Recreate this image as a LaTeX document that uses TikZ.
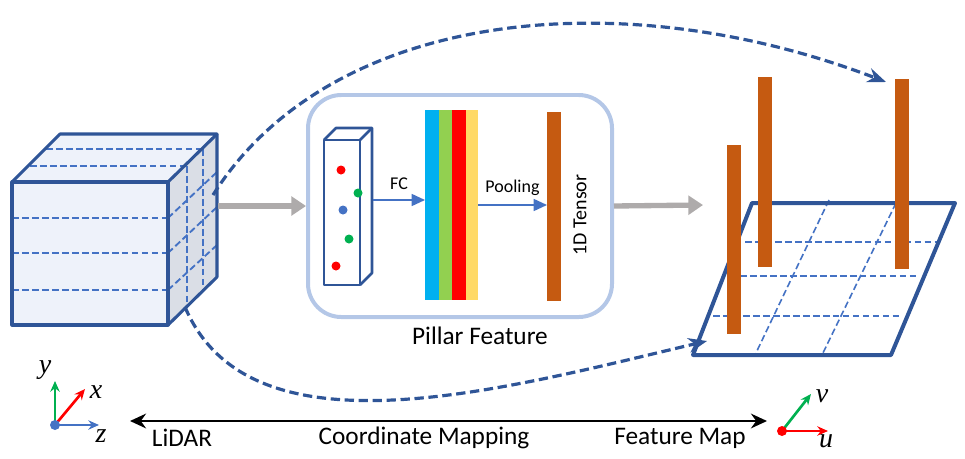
\documentclass[tikz,border=0pt]{standalone}
\usepackage{fontspec}
\setmainfont{Carlito}
\newfontfamily\axfont{Liberation Serif}
\usetikzlibrary{arrows.meta}
\definecolor{dblue}{HTML}{2F5597}
\definecolor{mblue}{HTML}{4472C4}
\definecolor{lblue}{HTML}{B4C7E7}
\definecolor{brown}{HTML}{C55A11}
\definecolor{gr}{HTML}{AEABAB}
\definecolor{ggreen}{HTML}{00B050}
\definecolor{cb}{HTML}{00B0F0}
\definecolor{cg}{HTML}{92D050}
\definecolor{cy}{HTML}{FFD966}
\definecolor{cubef}{HTML}{EEF2FA}
\definecolor{cubes}{HTML}{DADEE6}
\begin{document}
\begin{tikzpicture}[x=0.0264cm,y=-0.0264cm,
  edge/.style={line width=2.3pt,draw=dblue,line join=round},
  grid/.style={mblue,dash pattern=on 5pt off 2.5pt,line width=1.4pt},
  curve/.style={dblue,line width=2.4pt,dash pattern=on 7pt off 3.5pt,-{Stealth[length=14pt,width=11pt]}},
  grayarr/.style={gr,line width=4pt,-{Triangle[length=11pt,width=14pt]}},
  barr/.style={mblue,line width=1.2pt,-{Triangle[length=10pt,width=9pt]}},
  lab/.style={font=\fontsize{13.5}{14}\selectfont},
  big/.style={font=\fontsize{19}{21}\selectfont},
  ax/.style={line width=2pt,-{Stealth[length=8pt,width=7pt]}},
  mth/.style={font=\axfont\itshape\fontsize{21}{21}\selectfont}]
\useasboundingbox (0,0) rectangle (965,459);
% cube
\fill[cubef] (12,182) rectangle (168,325);
\fill[cubef] (12,182)--(60,134)--(217,134)--(168,182)--cycle;
\fill[cubes] (168,182)--(217,134)--(217,277)--(168,325)--cycle;
\foreach \y in {218,253,290} \draw[grid] (12,\y)--(168,\y);
\draw[grid] (46,149)--(203,149);
\draw[grid] (30,166)--(186,166);
\draw[grid] (187,166)--(187,305);
\draw[grid] (203,149)--(203,290);
\draw[grid] (168,218)--(217,172);
\draw[grid] (168,253)--(217,207);
\draw[grid] (168,290)--(217,245);
\draw[edge] (12,182) rectangle (168,325);
\draw[edge] (12,182)--(60,134)--(217,134)--(168,182);
\draw[edge] (217,134)--(217,277)--(168,325);
\coordinate (cubeR) at (218,206);
\coordinate (cubeT) at (213,195);
\coordinate (cubeB) at (185,307);
% pillar feature box
\draw[lblue,line width=3pt,rounded corners=25pt] (308,95) rectangle (612,317);
\coordinate (boxL) at (306,206);
\coordinate (boxR) at (614,206);
\node[big] (pf) at (480,336) {Pillar Feature};
% pillar
\draw[edge,line width=2pt] (324,140) rectangle (360,285);
\draw[edge,line width=2pt] (324,140)--(336,128)--(372,128)--(372,273)--(360,285);
\draw[edge,line width=2pt] (360,140)--(372,128);
\fill[red] (341,170) circle (4.5);
\fill[ggreen] (358,193) circle (4.5);
\fill[mblue] (343,210) circle (4.5);
\fill[ggreen] (349,239) circle (4.5);
\fill[red] (336,266) circle (4.5);
\coordinate (pilR) at (373,200);
% color bars
\fill[cb] (425,110) rectangle (439,300);
\fill[cg] (439,110) rectangle (452,300);
\fill[red] (452,110) rectangle (466,300);
\fill[cy] (466,110) rectangle (478,300);
\coordinate (colL) at (425,200);
\coordinate (colR) at (478,205);
\draw[barr] (pilR)--(colL) node[midway,above=4pt,lab,text=black] (fc) {FC};
\fill[brown] (547,112) rectangle (561,301);
\coordinate (tenL) at (547,205);
\draw[barr] (colR)--(tenL) node[midway,above=3pt,lab,text=black] (pool) {Pooling};
\node[lab,rotate=90,font=\fontsize{15}{16}\selectfont] (ten) at (580,215) {1D Tensor};
% gray arrows
\draw[grayarr] (cubeR)--(boxL);
\coordinate (fmL) at (703,205);
\draw[grayarr] (boxR)--(fmL);
% feature map plane
\fill[white] (693,355)--(752,203)--(955,203)--(891,355)--cycle;
\draw[grid] (745,242)--(937,242);
\draw[grid] (740,276)--(916,276);
\draw[grid] (713,316)--(902,316);
\draw[mblue,dash pattern=on 5pt off 2.5pt,line width=1.2pt] (829,200)--(755,355);
\draw[mblue,dash pattern=on 5pt off 2.5pt,line width=1.2pt] (896,203)--(822,355);
\draw[edge,line width=3pt] (693,355)--(752,203)--(955,203)--(891,355)--cycle;
\fill[brown] (727,145) rectangle (741,334);
\fill[brown] (758,77) rectangle (772,267);
\fill[brown] (895,79) rectangle (909,269);
\coordinate (topT) at (886,82);
\coordinate (planeA) at (707,341);
% curves
\draw[curve] (cubeT) .. controls (330,10) and (620,-20) .. (topT);
\draw[curve] (cubeB) .. controls (250,460) and (500,390) .. (planeA);
% axes left
\coordinate (o1) at (55,425);
\draw[ggreen,ax] (o1)--(55,381);
\draw[red,ax] (o1)--(85,389);
\draw[mblue,ax] (o1)--(99,425);
\fill[mblue] (o1) circle (5);
\node[mth] (ly) at (45,370) {y};
\node[mth] (lx) at (96,392) {x};
\node[mth] (lz) at (101,436) {z};
% axes right
\coordinate (o2) at (782,431);
\draw[ggreen,ax] (o2)--(811,394);
\draw[red,ax] (o2)--(828,431);
\fill[red] (o2) circle (5);
\node[mth] (lv) at (822,396) {v};
\node[mth] (lu) at (826,441) {u};
% mapping arrow
\coordinate (mL) at (130,421);
\coordinate (mR) at (767,421);
\draw[black,line width=2pt,{Stealth[length=12pt,width=11pt]}-{Stealth[length=12pt,width=11pt]}] (mL)--(mR);
\node[big] (lidar) at (182,438) {LiDAR};
\node[big] (cm) at (424,438) {Coordinate Mapping};
\node[big] (fm) at (680,438) {Feature Map};
\end{tikzpicture}
\end{document}
